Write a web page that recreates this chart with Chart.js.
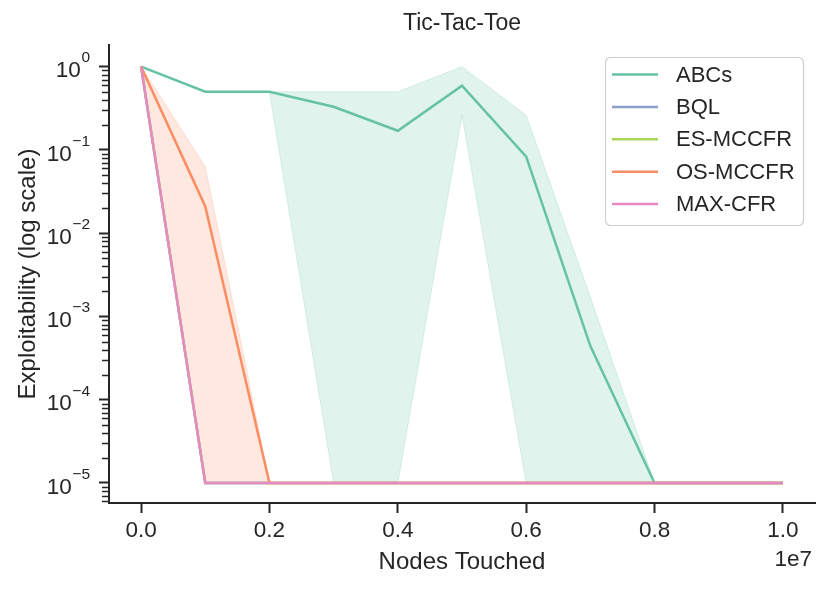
<!DOCTYPE html>
<html>
<head>
<meta charset="utf-8">
<script src="https://cdn.jsdelivr.net/npm/chart.js@4.4.1/dist/chart.umd.min.js"></script>
<style>
  html, body { margin: 0; padding: 0; background: #fff; }
</style>
</head>
<body>
<canvas id="chart" width="830" height="590"></canvas>
<script>
// Valores (eixo x em nós tocados)
const nodesTouched = [0, 1e6, 2e6, 3e6, 4e6, 5e6, 6e6, 7e6, 8e6, 9e6, 1e7];

const abcsMean  = [1.0, 0.5, 0.5, 0.33, 0.17, 0.59, 0.083, 4.4e-4, 1e-5, 1e-5, 1e-5];
const abcsUpper = [1.0, 0.5, 0.5, 0.5, 0.5, 1.0, 0.26, 1.7e-3, 1e-5, 1e-5, 1e-5];
const abcsLower = [1.0, 0.5, 0.5, 1e-5, 1e-5, 0.26, 1e-5, 1e-5, 1e-5, 1e-5, 1e-5];

const bqlMean   = [1.0, 1e-5, 1e-5, 1e-5, 1e-5, 1e-5, 1e-5, 1e-5, 1e-5, 1e-5, 1e-5];
const esMean    = [1.0, 1e-5, 1e-5, 1e-5, 1e-5, 1e-5, 1e-5, 1e-5, 1e-5, 1e-5, 1e-5];

const osMean    = [1.0, 0.021, 1e-5, 1e-5, 1e-5, 1e-5, 1e-5, 1e-5, 1e-5, 1e-5, 1e-5];
const osUpper   = [1.0, 0.063, 1e-5, 1e-5, 1e-5, 1e-5, 1e-5, 1e-5, 1e-5, 1e-5, 1e-5];
const osLower   = [1.0, 1e-5, 1e-5, 1e-5, 1e-5, 1e-5, 1e-5, 1e-5, 1e-5, 1e-5, 1e-5];

const maxCfrMean = [1.0, 1e-5, 1e-5, 1e-5, 1e-5, 1e-5, 1e-5, 1e-5, 1e-5, 1e-5, 1e-5];

const xTickValues = [0, 2e6, 4e6, 6e6, 8e6, 1e7];
const yMajorTicks = [1e-5, 1e-4, 1e-3, 1e-2, 1e-1, 1];

const TEXT = '#262626';
const FONT = '"Liberation Sans", Arial, sans-serif';

Chart.defaults.font.family = FONT;
Chart.defaults.color = TEXT;

function pts(arr) {
    return nodesTouched.map((x, i) => ({ x: x, y: arr[i] }));
}

function lineSet(label, arr, color, order) {
    return {
        label: label, data: pts(arr), borderColor: color, backgroundColor: color,
        borderWidth: 2.5, pointRadius: 0, tension: 0, fill: false, order: order
    };
}

function bandSet(arr, rgb, fill) {
    return {
        label: '', band: true, data: pts(arr),
        borderColor: 'rgba(' + rgb + ',0.22)', borderWidth: 1,
        backgroundColor: 'rgba(' + rgb + ',0.2)',
        pointRadius: 0, tension: 0, fill: fill, order: 10
    };
}

// todos os valores de ticks do eixo log (maiores + menores)
function logTicks(min, max) {
    const out = [];
    for (let e = -6; e <= 0; e++) {
        for (let m = 1; m <= 9; m++) {
            const v = m * Math.pow(10, e);
            if (v >= min && v <= max) out.push({ value: v, major: m === 1 });
        }
    }
    return out;
}

// rótulos 10^n, ticks menores, legenda e "1e7"
const decorPlugin = {
    id: 'decor',
    afterDraw(chart) {
        const ctx = chart.ctx;
        const y = chart.scales.y;
        const area = chart.chartArea;
        ctx.save();

        // ticks menores
        ctx.strokeStyle = TEXT;
        ctx.lineWidth = 1.5;
        y.ticks.forEach(t => {
            if (t.major) return;
            const py = Math.round(y.getPixelForValue(t.value)) + 0.5;
            ctx.beginPath();
            ctx.moveTo(area.left - 7, py);
            ctx.lineTo(area.left - 1, py);
            ctx.stroke();
        });

        // rótulos do eixo y com expoente
        ctx.fillStyle = TEXT;
        ctx.textBaseline = 'middle';
        ctx.textAlign = 'right';
        yMajorTicks.forEach(v => {
            const py = y.getPixelForValue(v);
            const exp = Math.round(Math.log10(v));
            const expText = exp === 0 ? '0' : '\u2212' + (-exp);
            ctx.font = '15.5px ' + FONT;
            const w = ctx.measureText(expText).width;
            ctx.fillText(expText, 90, py - 8.5);
            ctx.font = '22.5px ' + FONT;
            ctx.fillText('10', 90 - w - 0.5, py + 4.5);
        });

        // multiplicador do eixo x
        ctx.font = '22.5px ' + FONT;
        ctx.textBaseline = 'alphabetic';
        ctx.fillText('1e7', 812, 566);

        // legenda
        const items = chart.data.datasets.filter(d => !d.band);
        const bx = 605, by = 57, bw = 198, bh = 168;
        ctx.beginPath();
        ctx.roundRect(bx + 0.5, by + 0.5, bw, bh, 5);
        ctx.fillStyle = 'rgba(255,255,255,0.8)';
        ctx.fill();
        ctx.strokeStyle = '#d0d0d0';
        ctx.lineWidth = 1.2;
        ctx.stroke();
        ctx.font = '22px ' + FONT;
        ctx.textAlign = 'left';
        ctx.textBaseline = 'middle';
        items.forEach((d, i) => {
            const cy = 74.5 + i * 32.4;
            ctx.strokeStyle = d.borderColor;
            ctx.lineWidth = 2.5;
            ctx.beginPath();
            ctx.moveTo(612, cy);
            ctx.lineTo(658, cy);
            ctx.stroke();
            ctx.fillStyle = TEXT;
            ctx.fillText(d.label, 676, cy + 1);
        });
        ctx.restore();
    }
};

document.addEventListener('DOMContentLoaded', () => {
    const ctx = document.getElementById('chart').getContext('2d');
    new Chart(ctx, {
        type: 'line',
        data: {
            datasets: [
                lineSet('ABCs', abcsMean, '#66c2a5', 5),
                lineSet('BQL', bqlMean, '#8da0cb', 4),
                lineSet('ES-MCCFR', esMean, '#a6d854', 3),
                lineSet('OS-MCCFR', osMean, '#fc8d62', 2),
                lineSet('MAX-CFR', maxCfrMean, '#e78ac3', 1),
                bandSet(abcsUpper, '102,194,165', '+1'),
                bandSet(abcsLower, '102,194,165', false),
                bandSet(osUpper, '252,141,98', '+1'),
                bandSet(osLower, '252,141,98', false)
            ]
        },
        options: {
            responsive: false,
            animation: false,
            events: [],
            layout: { padding: { left: 0, right: 15, top: 0, bottom: 0 } },
            plugins: {
                legend: { display: false },
                tooltip: { enabled: false },
                title: {
                    display: true, text: 'Tic-Tac-Toe', fullSize: false,
                    font: { size: 23, weight: 'normal' }, color: TEXT,
                    padding: { top: 10, bottom: 7.4 }
                }
            },
            scales: {
                x: {
                    type: 'linear', min: -5e5, max: 1.05e7,
                    border: { display: true, color: TEXT, width: 2 },
                    grid: { drawOnChartArea: false, drawTicks: true, tickLength: 10, tickWidth: 2, tickColor: TEXT },
                    ticks: {
                        autoSkip: false, maxRotation: 0, padding: 4, color: TEXT,
                        font: { size: 22.5 },
                        callback: v => (v / 1e7).toFixed(1)
                    },
                    afterBuildTicks: s => { s.ticks = xTickValues.map(v => ({ value: v })); },
                    afterFit: s => { s.height = 87; },
                    title: {
                        display: true, text: 'Nodes Touched', color: TEXT,
                        font: { size: 24 }, padding: { top: 0, bottom: 13 }
                    }
                },
                y: {
                    type: 'logarithmic', min: 5.75e-6, max: 1.82,
                    border: { display: true, color: TEXT, width: 2 },
                    grid: {
                        drawOnChartArea: false, drawTicks: true, tickLength: 10, tickWidth: 2,
                        tickColor: c => (c.tick && c.tick.major) ? TEXT : 'rgba(0,0,0,0)'
                    },
                    ticks: { autoSkip: false, padding: 0, callback: () => '' },
                    afterBuildTicks: s => { s.ticks = logTicks(s.min, s.max); },
                    afterFit: s => { s.width = 109; },
                    title: {
                        display: true, text: 'Exploitability (log scale)', color: TEXT,
                        font: { size: 24 }, padding: { top: 14, bottom: 0 }
                    }
                }
            }
        },
        plugins: [decorPlugin]
    });
});
</script>
</body>
</html>
